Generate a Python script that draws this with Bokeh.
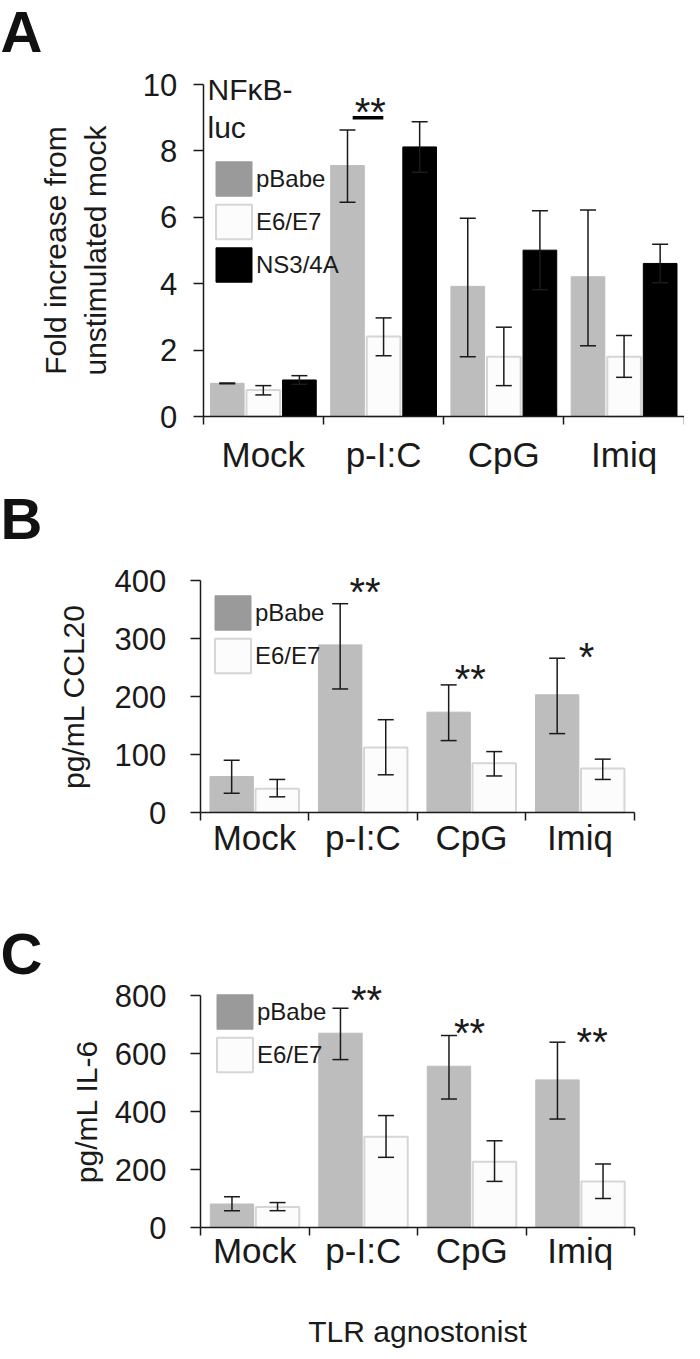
import numpy as np
from bokeh.plotting import figure
from bokeh.models import (Range1d, FixedTicker, Whisker, TeeHead, ColumnDataSource,
                          Label, Legend, LegendItem)
from bokeh.layouts import column
from bokeh.embed import file_html
from bokeh.resources import INLINE

# ---------------- data ----------------
groups = ["Mock", "p-I:C", "CpG", "Imiq"]
series_A = ["pBabe", "E6/E7", "NS3/4A"]
series_BC = ["pBabe", "E6/E7"]

A_pbabe = [1.00, 7.56, 3.92, 4.21]
A_pbabe_lo = [0.99, 6.45, 1.80, 2.13]
A_pbabe_hi = [1.01, 8.63, 5.97, 6.22]
A_e6e7 = [0.80, 2.41, 1.80, 1.80]
A_e6e7_lo = [0.65, 1.83, 0.93, 1.18]
A_e6e7_hi = [0.93, 2.97, 2.69, 2.44]
A_ns = [1.10, 8.12, 5.01, 4.61]
A_ns_lo = [0.97, 7.36, 3.82, 4.03]
A_ns_hi = [1.23, 8.88, 6.20, 5.19]

B_pbabe = [62, 289, 173, 203]
B_pbabe_lo = [33, 213, 124, 136]
B_pbabe_hi = [90, 360, 220, 266]
B_e6e7 = [41, 112, 85, 76]
B_e6e7_lo = [27, 65, 63, 57]
B_e6e7_hi = [57, 160, 105, 92]

C_pbabe = [81, 670, 556, 509]
C_pbabe_lo = [58, 579, 443, 374]
C_pbabe_hi = [106, 756, 662, 639]
C_e6e7 = [71, 313, 227, 159]
C_e6e7_lo = [58, 242, 159, 100]
C_e6e7_hi = [86, 386, 299, 219]

A_ticks = [0, 2, 4, 6, 8, 10]
B_ticks = [0, 100, 200, 300, 400]
C_ticks = [0, 200, 400, 600, 800]

# significance marks: (text, group position, value)
A_sig = [("**", 1.39, 9.17)]
A_bar_line = ([1.243, 1.498], [9.0, 9.0])
B_sig = [("**", 1.52, 381), ("**", 2.49, 230), ("*", 3.56, 268)]
C_sig = [("**", 1.53, 784), ("**", 2.48, 669), ("**", 3.61, 641)]

x_title = "TLR agnostonist"

# ---------------- style ----------------
FONT = "Liberation Sans"
INK = "#1a1a1a"
PB_BAR = "#bdbdbd"
PB_LEG = "#9a9a9a"
E6_FILL = "#fcfcfc"
E6_LINE = "#d6d6d6"
NS_FILL = "#000000"
W = 684


def base_fig(height, x0, gpx, y0_from_bottom, ppu, ymax, yticks, xstand, ystand):
    """x0: pixel of data x=0 from figure left; gpx: pixels per group;
    y0_from_bottom: pixel of data y=0 from figure bottom; ppu: pixels per y unit"""
    xr = Range1d(-x0 / gpx, (W - x0) / gpx)
    yr = Range1d(-y0_from_bottom / ppu, (height - y0_from_bottom) / ppu)
    p = figure(width=W, height=height, x_range=xr, y_range=yr,
               output_backend="svg", toolbar_location=None,
               min_border_left=0, min_border_right=0, min_border_top=0, min_border_bottom=0)
    p.outline_line_color = None
    p.grid.visible = False
    p.background_fill_color = "white"
    p.border_fill_color = "white"
    xa = p.xaxis[0]
    xa.fixed_location = 0
    xa.bounds = (0, len(groups))
    xa.ticker = FixedTicker(ticks=[i + 0.5 for i in range(len(groups))],
                            minor_ticks=list(range(len(groups) + 1)))
    xa.major_label_overrides = {i + 0.5: g for i, g in enumerate(groups)}
    xa.major_tick_out = 0
    xa.major_tick_in = 0
    xa.minor_tick_in = 0
    xa.minor_tick_out = 8
    xa.minor_tick_line_color = INK
    xa.minor_tick_line_width = 1.5
    xa.axis_line_color = INK
    xa.axis_line_width = 1.5
    xa.major_label_text_font = FONT
    xa.major_label_text_font_size = "35px"
    xa.major_label_text_color = INK
    xa.major_label_standoff = xstand
    ya = p.yaxis[0]
    ya.fixed_location = 0
    ya.bounds = (0, ymax)
    ya.ticker = FixedTicker(ticks=yticks, minor_ticks=[])
    ya.major_tick_out = 10
    ya.major_tick_in = 0
    ya.major_tick_line_color = INK
    ya.major_tick_line_width = 1.5
    ya.axis_line_color = INK
    ya.axis_line_width = 1.5
    ya.major_label_text_font = FONT
    ya.major_label_text_font_size = "31px"
    ya.major_label_text_color = INK
    ya.major_label_standoff = ystand
    ya.axis_label_text_font = FONT
    ya.axis_label_text_font_size = "30px"
    ya.axis_label_text_font_style = "normal"
    ya.axis_label_text_color = INK
    return p


def add_bars(p, values, lo, hi, offset, width, fill, line, lw):
    xs = [i + offset for i in range(len(values))]
    p.vbar(x=xs, top=values, bottom=0, width=width, fill_color=fill,
           line_color=line, line_width=lw)
    src = ColumnDataSource(dict(x=xs, lo=lo, hi=hi))
    w = Whisker(source=src, base="x", lower="lo", upper="hi", dimension="height",
                line_color=INK, line_width=1.5, level="overlay",
                upper_head=TeeHead(size=16, line_color=INK, line_width=1.5),
                lower_head=TeeHead(size=16, line_color=INK, line_width=1.5))
    p.add_layout(w)


def add_legend(p, names, fills, lines, loc):
    items = []
    for n, f, l in zip(names, fills, lines):
        # legend-only renderer (NaN data draws nothing in the plot)
        src = ColumnDataSource(dict(x=np.array([np.nan]), top=np.array([np.nan])))
        r = p.vbar(x="x", top="top", width=0.1, source=src, fill_color=f, line_color=l,
                   line_width=2 if l != f else 1)
        items.append(LegendItem(label=n, renderers=[r]))
    leg = Legend(items=items, location=loc, glyph_width=45, glyph_height=43, spacing=0,
                 padding=0, margin=0, border_line_color=None, background_fill_alpha=0,
                 label_standoff=0, label_text_font=FONT, label_text_font_size="24px",
                 label_text_color=INK)
    p.add_layout(leg)


def add_sig(p, sig):
    for t, x, y in sig:
        p.add_layout(Label(x=x, y=y, text=t, text_font=FONT, text_font_size="40px",
                           text_align="center", text_baseline="middle", text_color=INK))


def screen_text(p, t, x, y, size, bold=False, color=INK):
    p.add_layout(Label(x=x, y=y, x_units="screen", y_units="screen", text=t,
                       text_font=FONT, text_font_style="bold" if bold else "normal",
                       text_font_size=size, text_align="left",
                       text_baseline="alphabetic", text_color=color))


# ---------------- panel A ----------------
HA = 485
pA = base_fig(HA, 202.7, 120.25, 69, 33.2, 10, A_ticks, 10, 16)
pA.yaxis[0].axis_label = "Fold increase from\nunstimulated mock"
pA.yaxis[0].axis_label_standoff = 28
add_bars(pA, A_pbabe, A_pbabe_lo, A_pbabe_hi, 0.2, 0.28, PB_BAR, PB_BAR, 1)
add_bars(pA, A_e6e7, A_e6e7_lo, A_e6e7_hi, 0.5, 0.28, E6_FILL, E6_LINE, 2)
add_bars(pA, A_ns, A_ns_lo, A_ns_hi, 0.8, 0.28, NS_FILL, NS_FILL, 1)
pA.line(x=A_bar_line[0], y=A_bar_line[1], line_color="#000000", line_width=3.5)
add_sig(pA, A_sig)
add_legend(pA, series_A, [PB_LEG, E6_FILL, NS_FILL], [PB_LEG, E6_LINE, NS_FILL], (211, 199))
screen_text(pA, "NF\u03baB-", 207, 396, "30px")
screen_text(pA, "luc", 207, 358, "30px")
screen_text(pA, "A", 0, 454, "58px", bold=True, color="#111111")

# ---------------- panel B ----------------
HB = 415
pB = base_fig(HB, 199.7, 108.5, 88, 0.58, 400, B_ticks, -3, 24)
pB.yaxis[0].axis_label = "pg/mL CCL20"
pB.yaxis[0].axis_label_standoff = 22
add_bars(pB, B_pbabe, B_pbabe_lo, B_pbabe_hi, 0.29, 0.40, PB_BAR, PB_BAR, 1)
add_bars(pB, B_e6e7, B_e6e7_lo, B_e6e7_hi, 0.71, 0.40, E6_FILL, E6_LINE, 2)
add_sig(pB, B_sig)
add_legend(pB, series_BC, [PB_LEG, E6_FILL], [PB_LEG, E6_LINE], (210, 223))
screen_text(pB, "B", 0, 382, "58px", bold=True, color="#111111")

# ---------------- panel C ----------------
HC = 451
pC = base_fig(HC, 200, 108.5, 124, 0.29, 800, C_ticks, -5, 24)
pC.yaxis[0].axis_label = "pg/mL IL-6"
pC.yaxis[0].axis_label_standoff = 9
pC.xaxis[0].axis_label = x_title
pC.xaxis[0].axis_label_text_font = FONT
pC.xaxis[0].axis_label_text_font_size = "30px"
pC.xaxis[0].axis_label_text_font_style = "normal"
pC.xaxis[0].axis_label_text_color = INK
pC.xaxis[0].axis_label_standoff = 42
add_bars(pC, C_pbabe, C_pbabe_lo, C_pbabe_hi, 0.29, 0.40, PB_BAR, PB_BAR, 1)
add_bars(pC, C_e6e7, C_e6e7_lo, C_e6e7_hi, 0.71, 0.40, E6_FILL, E6_LINE, 2)
add_sig(pC, C_sig)
add_legend(pC, series_BC, [PB_LEG, E6_FILL], [PB_LEG, E6_LINE], (212, 275))
screen_text(pC, "C", 0, 398, "58px", bold=True, color="#111111")

layout = column(pA, pB, pC)
open("out.html", "w").write(file_html(layout, INLINE))
